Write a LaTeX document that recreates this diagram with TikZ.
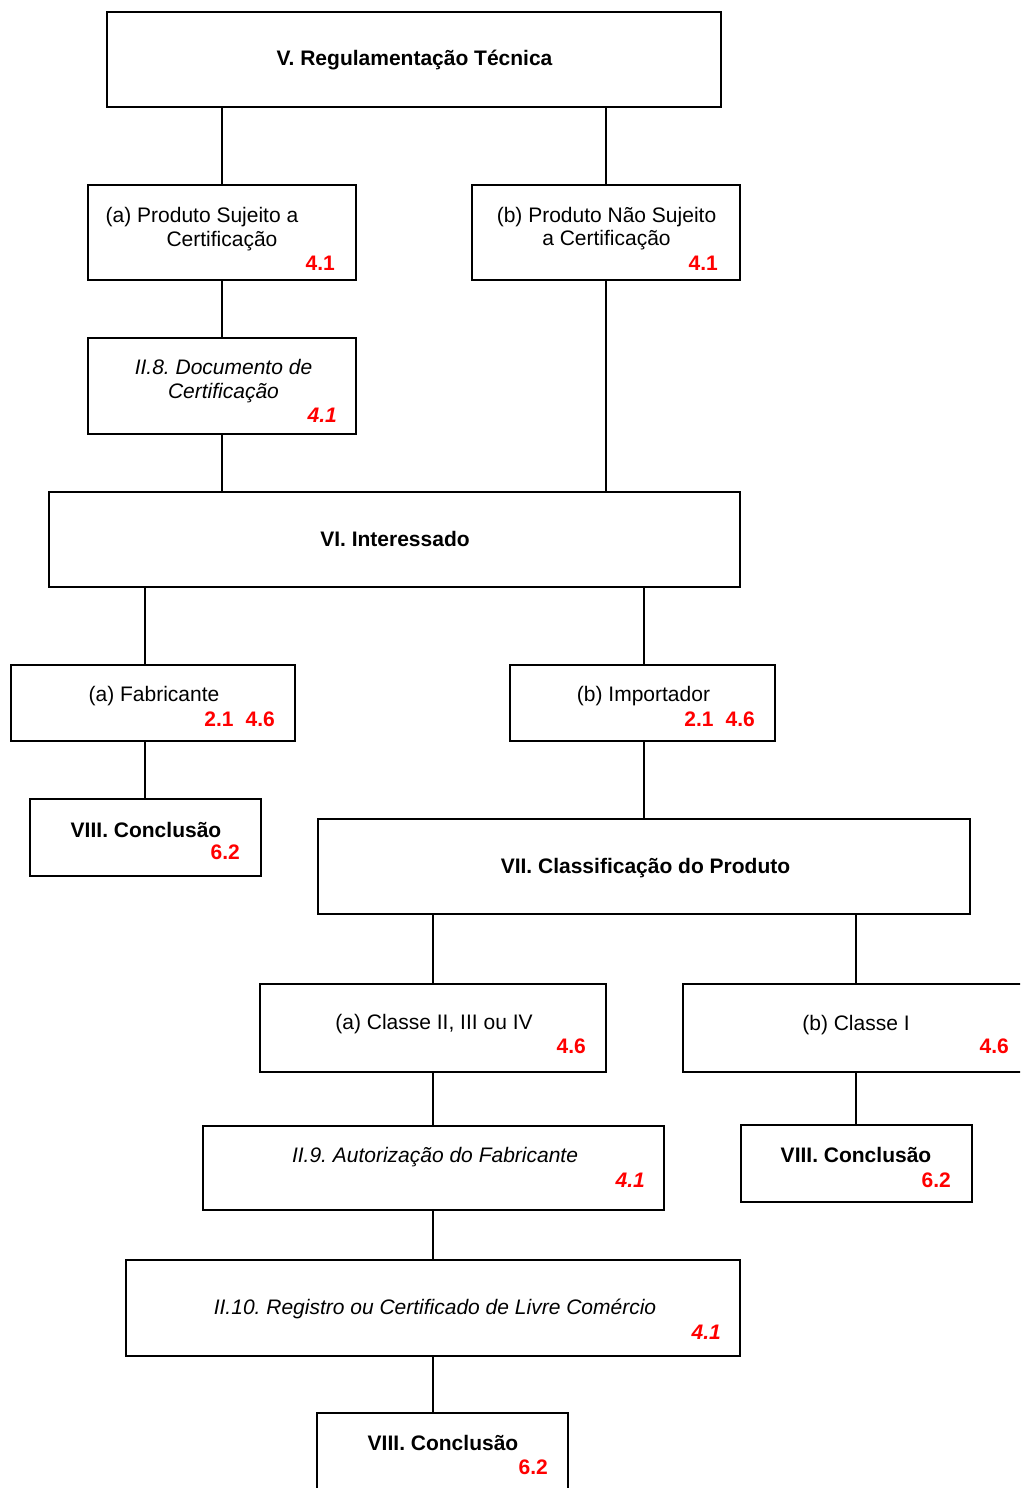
\documentclass[tikz,border=0pt]{standalone}
\usepackage{fontspec}
\setmainfont{Liberation Sans}
\newcommand\tamanho{\fontsize{21}{24}\selectfont\frenchspacing}

\begin{document}
\begin{tikzpicture}[x=1pt,y=-1pt, font=\tamanho,
    caixa/.style 2 args={draw, line width=2pt, inner sep=0pt, minimum width=#1pt, minimum height=#2pt},
    txt/.style={anchor=base, inner sep=0pt},
    ref/.style={anchor=base east, inner sep=0pt, text=red, font=\tamanho\bfseries},
    liga/.style={line width=2pt}]
  \useasboundingbox (0,0) rectangle (1020,1488);
  \clip (0,0) rectangle (1020,1488);

  % caixas
  \node[caixa={614}{95}] (regtec) at (414,59.5) {};
  \node[caixa={268}{95}] (sujeito) at (222,232.5) {};
  \node[caixa={268}{95}] (naosuj) at (606,232.5) {};
  \node[caixa={268}{96}] (doccert) at (222,386) {};
  \node[caixa={691}{95}] (interes) at (394.5,539.5) {};
  \node[caixa={284}{76}] (fabric) at (153,703) {};
  \node[caixa={265}{76}] (import) at (642.5,703) {};
  \node[caixa={231}{77}] (concA) at (145,837.5) {};
  \node[caixa={652}{95}] (classif) at (644,866.5) {};
  \node[caixa={346}{88}] (classeB) at (433,1028) {};
  \node[caixa={346}{88}] (classeA) at (856,1028) {};
  \node[caixa={461}{84}] (autoriz) at (433,1168) {};
  \node[caixa={231}{77}] (concB) at (856,1163.5) {};
  \node[caixa={614}{96}] (registro) at (433,1308) {};
  \node[caixa={251}{77}] (concC) at (442.5,1451.5) {};

  % textos
  \node[txt, font=\tamanho\bfseries] (regtecT) at (414.5,66) {V. Regulamentação Técnica};
  \node[txt] (sujeitoT) at (202,222) {(a) Produto Sujeito a};
  \node[txt] (sujeitoU) at (222,246) {Certificação};
  \node[ref] (sujeitoR) at (335,270) {4.1};
  \node[txt] (naosujT) at (606.5,222) {(b) Produto Não Sujeito};
  \node[txt] (naosujU) at (606.5,245) {a Certificação};
  \node[ref] (naosujR) at (718,270) {4.1};
  \node[txt, font=\tamanho\itshape] (doccertT) at (223.5,374) {II.8. Documento de};
  \node[txt, font=\tamanho\itshape] (doccertU) at (223.5,398) {Certificação};
  \node[ref, font=\tamanho\bfseries\itshape] (doccertR) at (337,422) {4.1};
  \node[txt, font=\tamanho\bfseries] (interesT) at (395,546) {VI. Interessado};
  \node[txt] (fabricT) at (154,701) {(a) Fabricante};
  \node[ref] (fabricR) at (275,726) {2.1\hspace{12pt}4.6};
  \node[txt] (importT) at (643.5,701) {(b) Importador};
  \node[ref] (importR) at (755,726) {2.1\hspace{12pt}4.6};
  \node[txt, font=\tamanho\bfseries] (concAT) at (146,837) {VIII. Conclusão};
  \node[ref] (concAR) at (240,859) {6.2};
  \node[txt, font=\tamanho\bfseries] (classifT) at (645.5,873) {VII. Classificação do Produto};
  \node[txt] (classeBT) at (434,1029) {(a) Classe II, III ou IV};
  \node[ref] (classeBR) at (586,1053) {4.6};
  \node[txt] (classeAT) at (856,1030) {(b) Classe I};
  \node[ref] (classeAR) at (1009,1053) {4.6};
  \node[txt, font=\tamanho\itshape] (autorizT) at (435,1162) {II.9. Autorização do Fabricante};
  \node[ref, font=\tamanho\bfseries\itshape] (autorizR) at (645,1187) {4.1};
  \node[txt, font=\tamanho\bfseries] (concBT) at (856,1162) {VIII. Conclusão};
  \node[ref] (concBR) at (951,1187) {6.2};
  \node[txt, font=\tamanho\itshape] (registroT) at (435,1314) {II.10. Registro ou Certificado de Livre Comércio};
  \node[ref, font=\tamanho\bfseries\itshape] (registroR) at (721,1339) {4.1};
  \node[txt, font=\tamanho\bfseries] (concCT) at (443,1450) {VIII. Conclusão};
  \node[ref] (concCR) at (548,1474) {6.2};

  % ligacoes
  \draw[liga] (sujeito.north) -- (sujeito.north |- regtec.south);
  \draw[liga] (naosuj.north) -- (naosuj.north |- regtec.south);
  \draw[liga] (sujeito.south) -- (doccert.north);
  \draw[liga] (doccert.south) -- (doccert.south |- interes.north);
  \draw[liga] (naosuj.south) -- (naosuj.south |- interes.north);
  \draw[liga] (concA.north |- interes.south) -- (concA.north |- fabric.north);
  \draw[liga] (classif.north |- interes.south) -- (classif.north |- import.north);
  \draw[liga] (concA.north |- fabric.south) -- (concA.north);
  \draw[liga] (classif.north |- import.south) -- (classif.north);
  \draw[liga] (classeB.north) -- (classeB.north |- classif.south);
  \draw[liga] (classeA.north) -- (classeA.north |- classif.south);
  \draw[liga] (classeB.south) -- (classeB.south |- autoriz.north);
  \draw[liga] (classeA.south) -- (classeA.south |- concB.north);
  \draw[liga] (autoriz.south) -- (autoriz.south |- registro.north);
  \draw[liga] (registro.south) -- (registro.south |- concC.north);
\end{tikzpicture}
\end{document}
